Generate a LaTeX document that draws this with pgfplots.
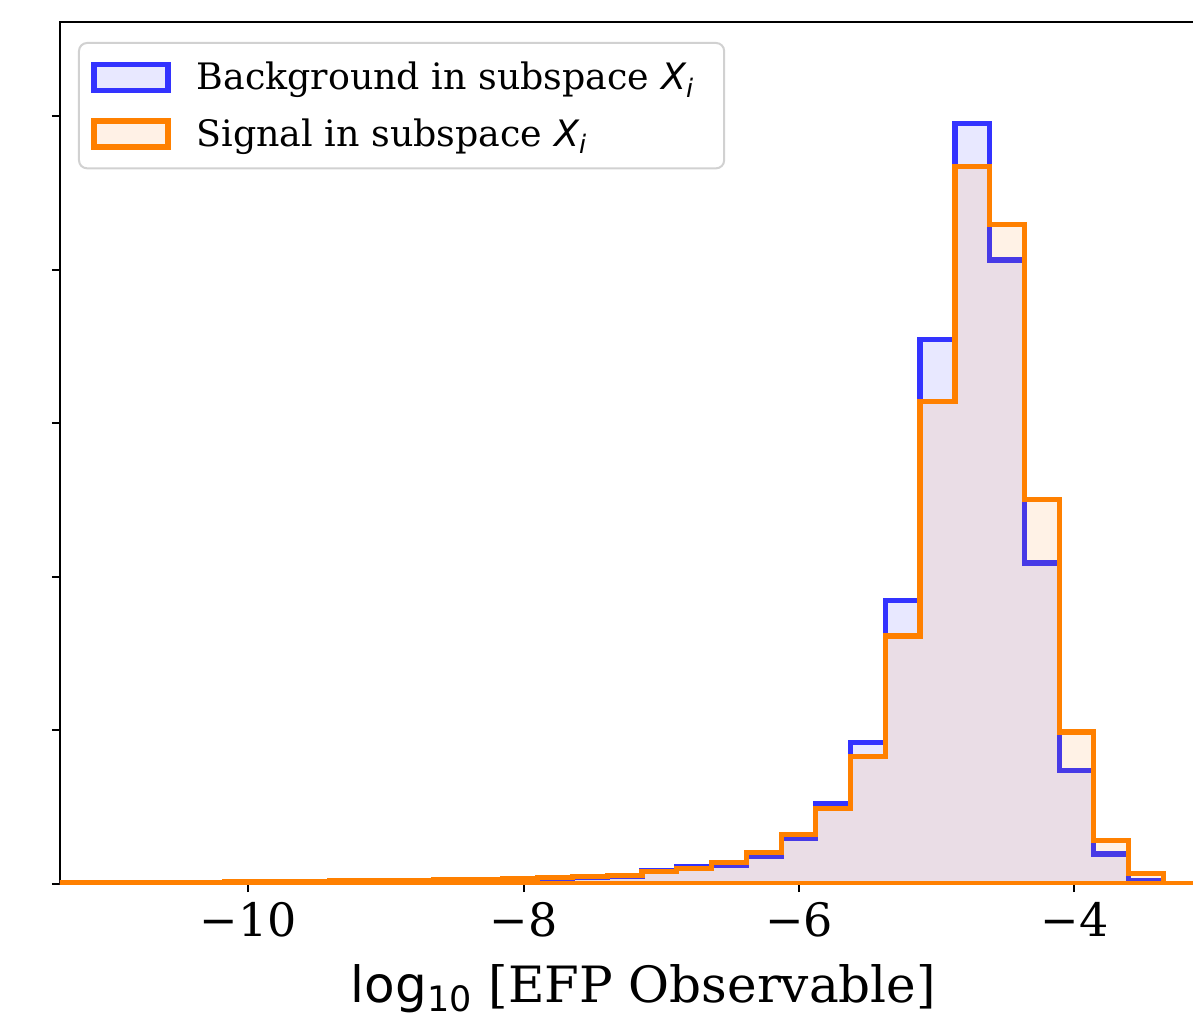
\documentclass[border=0pt]{standalone}
\usepackage{pgfplots}
\pgfplotsset{compat=1.18}
\usepackage{pgfplotstable}
\usepackage{fontspec}
\setmainfont{DejaVu Serif}
\newfontfamily\dvs{DejaVu Sans}
\definecolor{bgblue}{HTML}{0000FF}
\definecolor{sigor}{HTML}{FF7F0E}
\definecolor{sigedge}{HTML}{FF8000}
\definecolor{bgedge}{HTML}{3333FF}

\pgfplotstableread{
x y
-11.683 0.0010
-11.431 0.0013
-11.178 0.0015
-10.926 0.0017
-10.674 0.0019
-10.421 0.0022
-10.169 0.0025
-9.916 0.0028
-9.664 0.0032
-9.412 0.0036
-9.159 0.0040
-8.907 0.0044
-8.654 0.0049
-8.402 0.0055
-8.150 0.0063
-7.897 0.0072
-7.645 0.0088
-7.392 0.0100
-7.140 0.0173
-6.888 0.0221
-6.635 0.0247
-6.383 0.0365
-6.130 0.0595
-5.878 0.1050
-5.625 0.1840
-5.373 0.3690
-5.121 0.7090
-4.868 0.9900
-4.616 0.8125
-4.363 0.4180
-4.111 0.1480
-3.859 0.0390
-3.606 0.0050
-3.354 0.0003
-3.102 0.0003
}\bgdata

\pgfplotstableread{
x y
-11.683 0.0012
-11.431 0.0015
-11.178 0.0017
-10.926 0.0019
-10.674 0.0021
-10.421 0.0024
-10.169 0.0027
-9.916 0.0031
-9.664 0.0035
-9.412 0.0040
-9.159 0.0044
-8.907 0.0048
-8.654 0.0053
-8.402 0.0060
-8.150 0.0068
-7.897 0.0080
-7.645 0.0095
-7.392 0.0110
-7.140 0.0160
-6.888 0.0205
-6.635 0.0283
-6.383 0.0410
-6.130 0.0640
-5.878 0.0980
-5.625 0.1660
-5.373 0.3230
-5.121 0.6280
-4.868 0.9340
-4.616 0.8590
-4.363 0.5010
-4.111 0.1980
-3.859 0.0570
-3.606 0.0140
-3.354 0.0010
-3.102 0.0010
}\sigdata

\begin{document}
\begin{tikzpicture}
\begin{axis}[
  at={(0,0)}, anchor=south west,
  scale only axis, width=583.5pt, height=431pt,
  xmin=-11.367, xmax=-2.892, ymin=0, ymax=1.1224,
  xtick={-10,-8,-6,-4},
  xticklabels={−10,−8,−6,−4},
  ytick={0,0.2,0.4,0.6,0.8,1.0},
  yticklabels={},
  tick align=outside,
  xtick pos=left, ytick pos=left,
  major tick length=4pt,
  tick style={line width=1pt, black},
  axis line style={line width=1pt},
  x tick label style={font=\fontsize{23}{26}\selectfont, yshift=-1.5pt},
  xlabel={{\dvs log}\textsubscript{\dvs 10} [EFP Observable]},
  xlabel style={font=\fontsize{25}{28}\selectfont, yshift=-7pt},
  legend image code/.code={\draw[#1, line width=2.8pt, sharp corners] (0pt,-6.5pt) rectangle (37pt,6.5pt);},
  legend style={at={(0,1)}, anchor=north west, xshift=9pt, yshift=-10pt,
    draw=black!18, line width=1pt, rounded corners=4pt, fill=white,
    font=\fontsize{18.2}{20}\selectfont, inner xsep=6pt, inner ysep=7.5pt,
    row sep=9pt, cells={anchor=west},
    /tikz/every odd column/.append style={column sep=11pt}},
]
\addplot[const plot mark left, draw=bgedge, line width=2.6pt, fill=bgblue, fill opacity=0.09]
  table[x=x,y=y] {\bgdata} \closedcycle;
\addlegendentry{Background in subspace {\dvs\itshape X}\textsubscript{\dvs\itshape i}\hspace*{7pt}}
\addplot[const plot mark left, draw=sigedge, line width=2.6pt, fill=sigor, fill opacity=0.1]
  table[x=x,y=y] {\sigdata} \closedcycle;
\addlegendentry{Signal in subspace {\dvs\itshape X}\textsubscript{\dvs\itshape i}}
\end{axis}
\pgfresetboundingbox
\path (-30pt,-64pt) rectangle (566.5pt,442pt);
\end{tikzpicture}
\end{document}
